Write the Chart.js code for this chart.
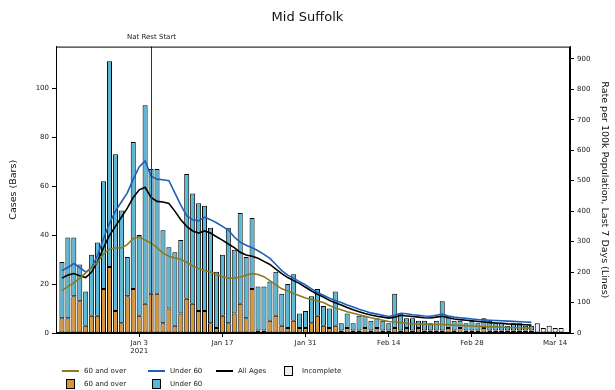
<!DOCTYPE html>
<html>
<head>
<meta charset="utf-8">
<script src="https://cdn.jsdelivr.net/npm/chart.js@4"></script>
<style>
  body { margin: 0; background: #fff; }
  #wrap { position: relative; width: 615px; height: 390px; }
  #legend { position: absolute; left: 62px; top: 366px; font: 7px "DejaVu Sans", sans-serif; color: #222;
            display: grid; grid-template-columns: 86px 68px 64px 80px; row-gap: 4px; }
  .item { display: flex; align-items: center; height: 9px; }
  .line { display: inline-block; width: 17px; height: 2px; margin-right: 5px; }
  .box { display: inline-block; width: 7px; height: 8px; border: 1px solid #000; margin: 0 9px 0 4px; }
</style>
</head>
<body>
<div id="wrap">
  <canvas id="chart" width="615" height="390"></canvas>
  <div id="legend">
    <div class="item"><span class="line" style="background:#8a7a22"></span>60 and over</div>
    <div class="item"><span class="line" style="background:#1f5fb8"></span>Under 60</div>
    <div class="item"><span class="line" style="background:#000"></span>All Ages</div>
    <div class="item"><span class="box" style="background:#eeeeee"></span>Incomplete</div>
    <div class="item"><span class="box" style="background:#d8963a"></span>60 and over</div>
    <div class="item"><span class="box" style="background:#58b8d6"></span>Under 60</div>
  </div>
</div>
<script>
// days are counted from Jan 3 2021; first bar is Dec 21 2020
const firstDay = -13;
const natRestDay = 2; // Jan 5

const tickDays = [0, 14, 28, 42, 56, 70];
const tickLabels = [['Jan 3', '2021'], 'Jan 17', 'Jan 31', 'Feb 14', 'Feb 28', 'Mar 14'];

const over60Cases = [
    6, 6, 15, 13, 3, 7, 7, 18, 27, 9,
    4, 15, 18, 7, 12, 16, 16, 4, 10, 3,
    8, 14, 12, 9, 9, 4, 2, 7, 4, 8,
    12, 6, 18, 1, 1, 5, 7, 3, 2, 5,
    2, 2, 4, 7, 3, 2, 3, 1, 2, 1,
    1, 2, 1, 2, 1, 1, 2, 1, 2, 1,
    2, 1, 1, 1, 1, 2, 1, 2, 1, 1,
    1, 2, 1, 1, 1, 1, 1, 1, 1, 1
];
const under60Cases = [
    23, 33, 24, 15, 14, 25, 30, 44, 84, 64,
    46, 16, 60, 33, 81, 51, 51, 38, 25, 30,
    30, 51, 45, 44, 43, 39, 23, 25, 39, 26,
    37, 25, 29, 18, 18, 16, 18, 13, 18, 19,
    6, 7, 11, 11, 8, 8, 14, 3, 6, 3,
    6, 5, 4, 4, 4, 3, 14, 7, 4, 5,
    3, 4, 3, 4, 12, 5, 4, 3, 3, 4,
    3, 4, 4, 3, 3, 2, 3, 3, 2, 2
];
const incompleteCases = [4, 2, 3, 2, 2];

const rateOver60 = [
    140, 152, 165, 180, 197, 215, 232, 260, 275, 280,
    279, 290, 310, 316, 305, 295, 280, 262, 252, 246,
    242, 232, 220, 212, 205, 200, 192, 185, 180, 180,
    184, 190, 195, 192, 185, 172, 158, 145, 138, 130,
    122, 115, 110, 105, 100, 90, 82, 76, 70, 65,
    60, 55, 50, 46, 42, 38, 36, 34, 32, 30,
    30, 29, 28, 28, 28, 27, 26, 25, 24, 23,
    22, 21, 20, 20, 19, 18, 17, 17, 16, 16
];
const rateUnder60 = [
    205, 215, 228, 215, 200, 215, 255, 310, 360, 400,
    430, 460, 505, 545, 565, 515, 505, 503, 500, 460,
    420, 385, 372, 368, 380, 372, 362, 350, 338, 315,
    298, 288, 280, 270, 258, 245, 225, 205, 190, 180,
    168, 158, 145, 133, 124, 114, 107, 100, 92, 85,
    78, 72, 66, 62, 58, 54, 58, 65, 63, 60,
    58, 56, 55, 58, 62, 56, 52, 50, 48, 46,
    44, 43, 42, 41, 40, 39, 38, 37, 36, 35
];
const rateAll = [
    180, 190, 195, 188, 182, 200, 235, 280, 320, 350,
    380, 410, 445, 470, 478, 445, 432, 430, 425, 400,
    372, 350, 335, 328, 335, 328, 316, 305, 292, 280,
    265, 256, 252, 245, 235, 225, 210, 195, 182, 172,
    162, 150, 138, 127, 118, 107, 99, 92, 84, 76,
    70, 64, 59, 55, 52, 49, 52, 58, 56, 54,
    52, 50, 49, 52, 55, 50, 46, 44, 42, 40,
    38, 36, 34, 33, 32, 30, 29, 28, 27, 26
];

// turn a list of daily values into {x, y} points
function toPoints(values, startDay) {
    return values.map((v, i) => ({ x: startDay + i, y: v }));
}

const incompleteStart = firstDay + over60Cases.length;
const tickFont = { family: 'DejaVu Sans', size: 7 };

const natRestPlugin = {
    id: 'natRest',
    afterDatasetsDraw(chart) {
        const { ctx, chartArea, scales } = chart;
        const x = Math.round(scales.x.getPixelForValue(natRestDay)) + 0.5;
        ctx.save();
        ctx.strokeStyle = '#333';
        ctx.lineWidth = 1;
        ctx.beginPath();
        ctx.moveTo(x, chartArea.top);
        ctx.lineTo(x, chartArea.bottom);
        ctx.stroke();
        ctx.strokeStyle = '#000';
        ctx.strokeRect(chartArea.left + 0.5, chartArea.top + 0.5, chartArea.width - 1, chartArea.height - 1);
        ctx.fillStyle = '#222';
        ctx.font = '7px "DejaVu Sans"';
        ctx.textAlign = 'center';
        ctx.textBaseline = 'bottom';
        ctx.fillText('Nat Rest Start', x, chartArea.top - 6);
        ctx.restore();
    }
};

const barStyle = { borderColor: '#000', borderWidth: 1, borderSkipped: false,
                   barPercentage: 0.85, categoryPercentage: 1, yAxisID: 'y', order: 2 };
const lineStyle = { type: 'line', pointRadius: 0, borderWidth: 1.6, yAxisID: 'y1', order: 1, tension: 0 };

// keep only the round ticks, not the ones Chart.js adds at min/max
const roundTicks = step => axis => { axis.ticks = axis.ticks.filter(t => t.value % step === 0); };

new Chart(document.getElementById('chart').getContext('2d'), {
    type: 'bar',
    data: {
        datasets: [
            { ...barStyle, label: '60 and over', data: toPoints(over60Cases, firstDay), backgroundColor: '#d8963a' },
            { ...barStyle, label: 'Under 60', data: toPoints(under60Cases, firstDay), backgroundColor: '#58b8d6' },
            { ...barStyle, label: 'Incomplete', data: toPoints(incompleteCases, incompleteStart), backgroundColor: '#eeeeee' },
            { ...lineStyle, label: '60 and over', data: toPoints(rateOver60, firstDay), borderColor: '#8a7a22' },
            { ...lineStyle, label: 'Under 60', data: toPoints(rateUnder60, firstDay), borderColor: '#1f5fb8' },
            { ...lineStyle, label: 'All Ages', data: toPoints(rateAll, firstDay), borderColor: '#000' }
        ]
    },
    options: {
        responsive: false,
        animation: false,
        plugins: {
            legend: { display: false },
            tooltip: { enabled: false },
            title: {
                display: true,
                text: 'Mid Suffolk',
                color: '#111',
                font: { family: 'DejaVu Sans', size: 13, weight: 'normal' },
                padding: { top: 10, bottom: 21 }
            }
        },
        scales: {
            x: {
                type: 'linear',
                stacked: true,
                offset: false,
                min: -14,
                max: 72.5,
                afterBuildTicks: axis => { axis.ticks = tickDays.map(v => ({ value: v })); },
                afterFit: axis => { axis.height = 57; },
                ticks: {
                    autoSkip: false,
                    maxRotation: 0,
                    color: '#222',
                    font: tickFont,
                    padding: 2,
                    callback: value => tickLabels[tickDays.indexOf(value)]
                },
                grid: { drawOnChartArea: false, offset: false, color: '#000', tickLength: 4 },
                border: { color: '#000' }
            },
            y: {
                position: 'left',
                stacked: true,
                min: 0,
                max: 117,
                afterBuildTicks: roundTicks(20),
                afterFit: axis => { axis.width = 56; },
                ticks: { stepSize: 20, color: '#222', font: tickFont, padding: 3 },
                grid: { drawOnChartArea: false, color: '#000', tickLength: 4 },
                border: { color: '#000' },
                title: { display: true, text: 'Cases (Bars)', color: '#111',
                         font: { family: 'DejaVu Sans', size: 9.5 }, padding: { top: 8, bottom: 4 } }
            },
            y1: {
                position: 'right',
                min: 0,
                max: 940,
                afterBuildTicks: roundTicks(100),
                afterFit: axis => { axis.width = 45; },
                ticks: { stepSize: 100, color: '#222', font: tickFont, padding: 3 },
                grid: { drawOnChartArea: false, color: '#000', tickLength: 4 },
                border: { color: '#000' },
                title: { display: true, text: 'Rate per 100k Population, Last 7 Days (Lines)', color: '#111',
                         font: { family: 'DejaVu Sans', size: 9.5 }, padding: { top: 5, bottom: 4 } }
            }
        }
    },
    plugins: [natRestPlugin]
});
</script>
</body>
</html>
